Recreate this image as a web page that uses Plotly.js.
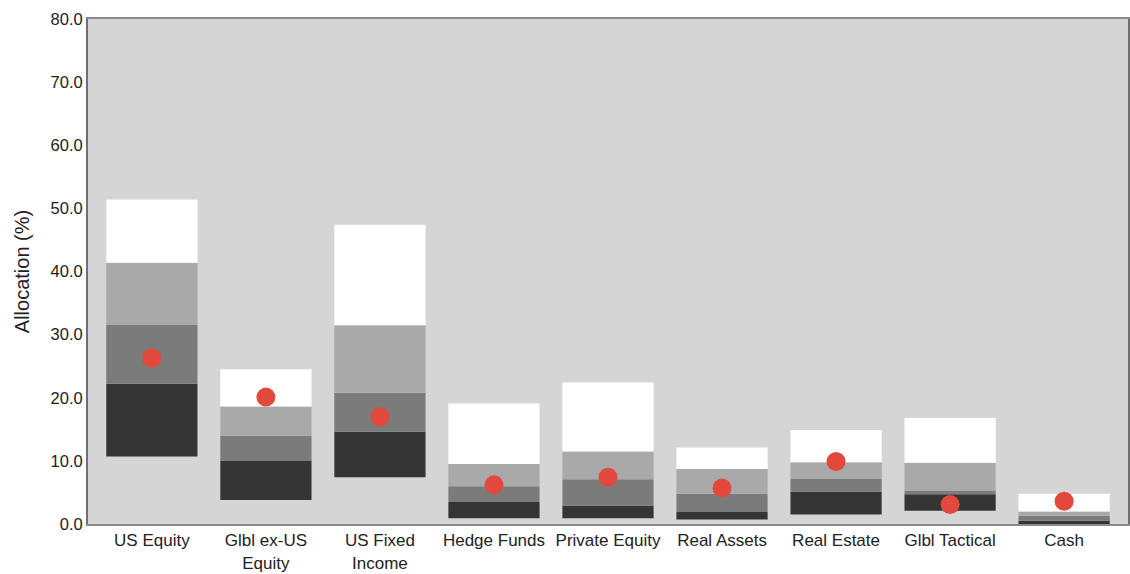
<!DOCTYPE html>
<html>
<head>
<meta charset="utf-8">
<script src="https://cdn.plot.ly/plotly-3.0.1.min.js"></script>
<style>
  html, body { margin: 0; padding: 0; background: #ffffff; }
  #chart { width: 1130px; height: 574px; }
</style>
</head>
<body>
<div id="chart"></div>
<script>
const categories = ["US Equity", "Glbl ex-US<br>Equity", "US Fixed<br>Income", "Hedge Funds", "Private Equity", "Real Assets", "Real Estate", "Glbl Tactical", "Cash"];
const minVals  = [10.7, 3.8, 7.4, 0.9, 0.9, 0.7, 1.5, 2.1, 0.0];
const p25Vals  = [22.2, 10.0, 14.6, 3.5, 2.9, 1.9, 5.1, 4.7, 0.5];
const p50Vals  = [31.6, 14.0, 20.8, 6.0, 7.1, 4.8, 7.2, 5.3, 1.3];
const p75Vals  = [41.4, 18.6, 31.5, 9.5, 11.5, 8.7, 9.8, 9.7, 2.0];
const maxVals  = [51.4, 24.5, 47.4, 19.1, 22.4, 12.1, 14.9, 16.8, 4.8];
const portfolio = [26.3, 20.1, 17.0, 6.2, 7.4, 5.7, 9.9, 3.1, 3.6];
const yTicks = [0, 10, 20, 30, 40, 50, 60, 70, 80];

function band(lo, hi, color, name) {
  return {
    type: 'bar', x: categories, base: lo,
    y: hi.map((v, i) => v - lo[i]),
    marker: { color: color, line: { width: 0 } },
    width: 0.8, name: name, showlegend: false, hoverinfo: 'skip'
  };
}

const traces = [
  band(minVals, p25Vals, '#353535', 'Min–25th'),
  band(p25Vals, p50Vals, '#7b7b7b', '25th–Median'),
  band(p50Vals, p75Vals, '#a9a9a9', 'Median–75th'),
  band(p75Vals, maxVals, '#ffffff', '75th–Max'),
  {
    type: 'scatter', mode: 'markers', x: categories, y: portfolio,
    marker: { color: '#e2483b', size: 19 }, showlegend: false, name: 'Portfolio'
  }
];

const layout = {
  width: 1130, height: 574,
  margin: { l: 88, r: 2, t: 19, b: 50 },
  paper_bgcolor: '#ffffff',
  plot_bgcolor: '#d5d5d5',
  barmode: 'overlay',
  font: { family: 'Liberation Sans, Arial, sans-serif', size: 17, color: '#222222' },
  xaxis: {
    type: 'category',
    showgrid: false, zeroline: false,
    showline: true, linecolor: '#8a8a8a', linewidth: 2, mirror: true,
    ticks: '', tickfont: { size: 17, color: '#222222' }
  },
  yaxis: {
    range: [0, 80], tickvals: yTicks, tickformat: '.1f',
    showgrid: false, zeroline: false,
    showline: true, linecolor: '#707070', linewidth: 2, mirror: true,
    ticks: '', tickfont: { size: 16.5, color: '#222222' },
    title: { text: 'Allocation (%)', font: { size: 20, color: '#222222' }, standoff: 16 }
  }
};

Plotly.newPlot('chart', traces, layout, { displayModeBar: false, staticPlot: true });
</script>
</body>
</html>
